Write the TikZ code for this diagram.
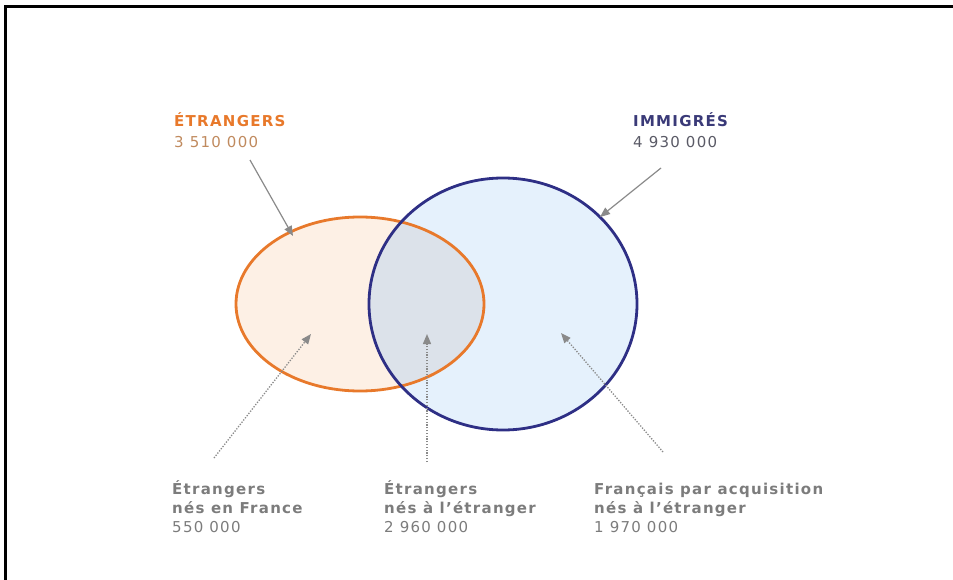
\documentclass[tikz,border=0pt]{standalone}
\usepackage{fontspec}
\setmainfont{DejaVu Sans}
\usetikzlibrary{arrows.meta}

\definecolor{etrline}{HTML}{E8792B}
\definecolor{etrfill}{HTML}{FDF0E5}
\definecolor{immline}{HTML}{2E2F85}
\definecolor{immfill}{HTML}{E5F1FC}
\definecolor{interfill}{HTML}{DCE2EA}
\definecolor{pointgray}{HTML}{8A8A8A}
\definecolor{labelgray}{HTML}{7C7C7C}

\tikzset{
    toplabel/.style={anchor=base west,inner sep=0pt,align=left,
        font=\fontsize{15}{21}\selectfont\addfontfeatures{LetterSpace=8.5}},
    lowlabel/.style={anchor=base west,inner sep=0pt,align=left,text=labelgray,
        font=\fontsize{15}{19}\selectfont\addfontfeatures{LetterSpace=8.5}},
    solidpointer/.style={pointgray,line width=1.2pt,-{Triangle[length=10pt,width=8pt]}},
    dotpointer/.style={pointgray,line width=1.3pt,dash pattern=on 1.3pt off 1.5pt,-{Triangle[length=10pt,width=8pt]}}
}

\begin{document}
\begin{tikzpicture}[x=1pt,y=-1pt]
            \useasboundingbox (0,0) rectangle (953,580);

            % frame
            \draw[line width=3pt] (5.5,580) -- (5.5,6.5) -- (953,6.5);

            % fills
            \fill[etrfill] (360,304) ellipse [x radius=124pt, y radius=87pt];
            \fill[immfill] (503,304) ellipse [x radius=134pt, y radius=126pt];
            \begin{scope}
                \clip (360,304) ellipse [x radius=124pt, y radius=87pt];
                \fill[interfill] (503,304) ellipse [x radius=134pt, y radius=126pt];
            \end{scope}

            % outlines
            \draw[etrline,line width=2.8pt] (360,304) ellipse [x radius=124pt, y radius=87pt];
            \draw[immline,line width=2.8pt] (503,304) ellipse [x radius=134pt, y radius=126pt];

            % top labels (anchored on the last line)
            \node[toplabel] (etr) at (174,148) {\textcolor{etrline}{\textbf{ÉTRANGERS}}\\
                \textcolor[HTML]{C08A5E}{3 510 000}};
            \node[toplabel] (imm) at (633,148) {\textcolor[HTML]{3A3A78}{\textbf{IMMIGRÉS}}\\
                \textcolor[HTML]{5A5A66}{4 930 000}};

            % bottom labels
            \node[lowlabel] (nesfr) at (172,532) {\textbf{Étrangers}\\ \textbf{nés en France}\\ 550 000};
            \node[lowlabel] (nesetr) at (384,532) {\textbf{Étrangers}\\ \textbf{nés à l’étranger}\\ 2 960 000};
            \node[lowlabel] (fracq) at (594,532) {\textbf{Français par acquisition}\\ \textbf{nés à l’étranger}\\ 1 970 000};

            % pointer ends
            \coordinate (etr-from) at (250,160);
            \coordinate (etr-to) at (293,236);
            \coordinate (imm-from) at (661,168);
            \coordinate (imm-to) at (600,217);
            \coordinate (nesfr-from) at (214,458);
            \coordinate (nesfr-to) at (311,334);
            \coordinate (nesetr-from) at (427,462);
            \coordinate (nesetr-to) at (427,334);
            \coordinate (fracq-from) at (663,452);
            \coordinate (fracq-to) at (561,333);

            % pointers
            \foreach \p in {etr,imm}
            \draw[solidpointer] (\p-from) -- (\p-to);
            \foreach \p in {nesfr,nesetr,fracq}
            \draw[dotpointer] (\p-from) -- (\p-to);
        \end{tikzpicture}
\end{document}
